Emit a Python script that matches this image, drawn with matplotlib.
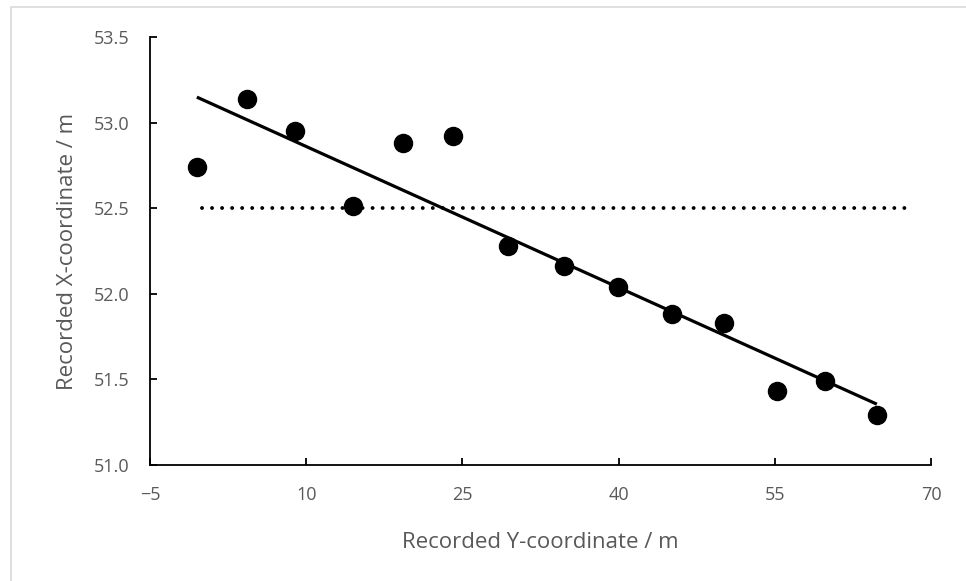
import numpy as np
import matplotlib
matplotlib.use("Agg")
import matplotlib.pyplot as plt
from matplotlib.patches import Rectangle
from matplotlib.ticker import FormatStrFormatter

# Data
y_coord = [-0.5, 4.3, 8.9, 14.5, 19.3, 24.1, 29.4, 34.8, 39.9, 45.1, 50.1, 55.2, 59.8, 64.8]
x_coord = [52.74, 53.14, 52.95, 52.51, 52.88, 52.92, 52.28, 52.16, 52.04, 51.88, 51.83, 51.43, 51.49, 51.29]
ref_x = [0, 67.7]
ref_y = [52.5, 52.5]
xticks = [-5, 10, 25, 40, 55, 70]
yticks = [51.0, 51.5, 52.0, 52.5, 53.0, 53.5]

plt.rcParams['font.family'] = ['Open Sans', 'DejaVu Sans']
grey = '#595959'

fig = plt.figure(figsize=(9.66, 5.81), dpi=100)
ax = fig.add_axes([150/966, 1-465/581, (931-150)/966, (465-37)/581])

# chart border
fig.add_artist(Rectangle((11/966, -0.1), 2.0, 1-7/581+0.1, transform=fig.transFigure,
                         fill=False, edgecolor='#d9d9d9', linewidth=1.2))

# dotted reference line
ax.plot(ref_x, ref_y, color='black', linewidth=2.8, linestyle=(0, (0.01, 2.57)),
        dash_capstyle='round', zorder=2)

# linear trendline
slope, intercept = np.polyfit(y_coord, x_coord, 1)
tx = np.array([min(y_coord), max(y_coord)])
ax.plot(tx, slope*tx + intercept, color='black', linewidth=2.3, zorder=3,
        solid_capstyle='butt')

ax.plot(y_coord, x_coord, 'o', color='black', markersize=13, zorder=4)

ax.set_xlim(-5, 70)
ax.set_ylim(51.0, 53.5)
ax.set_xticks(xticks)
ax.set_yticks(yticks)
ax.yaxis.set_major_formatter(FormatStrFormatter('%.1f'))
for s in ['top', 'right']:
    ax.spines[s].set_visible(False)
for s in ['left', 'bottom']:
    ax.spines[s].set_linewidth(1.3)
    ax.spines[s].set_color('black')
ax.tick_params(direction='in', length=5, width=1.3, colors='black',
               labelcolor=grey, labelsize=13, pad=15)
ax.set_xlabel('Recorded Y-coordinate / m', fontsize=16, color=grey, labelpad=20)
ax.set_ylabel('Recorded X-coordinate / m', fontsize=16, color=grey, labelpad=11)

fig.savefig('out.png', dpi=100)
